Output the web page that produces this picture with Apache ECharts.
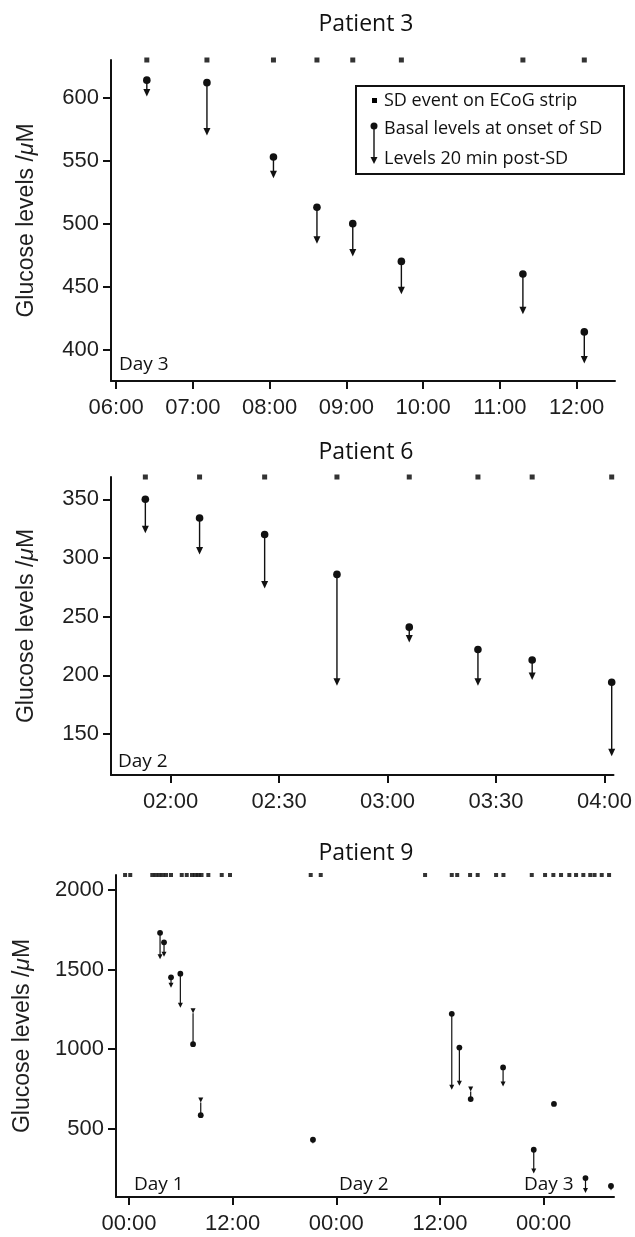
<!DOCTYPE html>
<html>
<head>
<meta charset="utf-8">
<script src="https://cdn.jsdelivr.net/npm/echarts@6/dist/echarts.min.js"></script>
<style>
html,body{margin:0;padding:0;background:#fff;}
#chart{width:635px;height:1237px;}
</style>
</head>
<body>
<div id="chart"></div>
<script>
// ---------------- DATA ----------------
// Patient 3 (Day 3)
const p3Times = ['06:24','07:11','08:03','08:37','09:05','09:43','11:18','12:06'];
const p3Basal = [614, 612, 553, 513, 500, 470, 460, 414];
const p3Post  = [601, 570, 536, 484, 474, 444, 428, 389];
const p3SD    = ['06:24','07:11','08:03','08:37','09:05','09:43','11:18','12:06'];
const p3XTicks = ['06:00','07:00','08:00','09:00','10:00','11:00','12:00'];
const p3YTicks = [400, 450, 500, 550, 600];

// Patient 6 (Day 2)
const p6Times = ['01:53','02:08','02:26','02:46','03:06','03:25','03:40','04:02'];
const p6Basal = [350, 334, 320, 286, 241, 222, 213, 194];
const p6Post  = [321, 303, 274, 191, 228, 191, 196, 131];
const p6SD    = ['01:53','02:08','02:26','02:46','03:06','03:25','03:40','04:02'];
const p6XTicks = ['02:00','02:30','03:00','03:30','04:00'];
const p6YTicks = [150, 200, 250, 300, 350];

// Patient 9 (hours since Day 1 00:00)
const p9Times = [3.6, 4.06, 4.87, 5.95, 7.42, 8.31, 21.3, 37.37, 38.25, 39.56, 43.31, 46.86, 49.2, 52.85, 55.8];
const p9Basal = [1731, 1671, 1451, 1474, 1031, 585, 431, 1222, 1010, 686, 885, 368, 656, 190, 140];
const p9Post  = [1564, 1580, 1385, 1260, 1225, 665, 405, 745, 770, 734, 766, 218, null, 96, 112];
const p9SD    = [-0.45, 0.15, 2.7, 3.1, 3.5, 3.9, 4.3, 4.87, 6.11, 6.69, 7.3, 7.7, 8.05, 8.4, 9.19, 10.74, 11.7,
                 21.04, 22.2, 34.28, 37.37, 38.0, 39.49, 40.37, 42.5, 43.35, 46.63, 48.17, 49.13, 50.02,
                 50.98, 51.76, 52.6, 53.4, 53.9, 54.73, 55.58];
const p9XTicks = [0, 12, 24, 36, 48];
const p9YTicks = [500, 1000, 1500, 2000];

// ---------------- HELPERS ----------------
const toMin = s => { const [h, m] = s.split(':').map(Number); return h * 60 + m; };
const pad = n => String(n).padStart(2, '0');
const fmtMin = v => pad(Math.floor(v / 60)) + ':' + pad(Math.round(v % 60));
const fmtHour = v => pad(((Math.round(v) % 24) + 24) % 24) + ':00';

const TICK_FONT = '"Liberation Sans", Arial, Helvetica, sans-serif';
const TEXT_FONT = '"Open Sans", "Noto Sans", sans-serif';
const INK = '#111111';

function arrowSeries(idx, xs, basal, post, sz) {
  const data = xs.map((x, i) => [x, basal[i], post[i] == null ? basal[i] : post[i]]);
  return {
    type: 'custom', xAxisIndex: idx, yAxisIndex: idx, clip: false, z: 3,
    data: data,
    encode: { x: 0, y: [1, 2] },
    renderItem: function (params, api) {
      const x = api.value(0), b = api.value(1), p = api.value(2);
      const pb = api.coord([x, b]);
      const pp = api.coord([x, p]);
      const children = [];
      if (Math.abs(pp[1] - pb[1]) > 0.5) {
        const down = pp[1] > pb[1];
        const lineEnd = down ? pp[1] - sz.th * 0.6 : pp[1];
        children.push({ type: 'line', shape: { x1: pb[0], y1: pb[1], x2: pp[0], y2: lineEnd },
          style: { stroke: INK, lineWidth: sz.lw } });
        children.push({ type: 'polygon', shape: { points: [
          [pp[0] - sz.tw / 2, pp[1] - sz.th], [pp[0] + sz.tw / 2, pp[1] - sz.th], [pp[0], pp[1]]] },
          style: { fill: INK } });
      }
      children.push({ type: 'circle', shape: { cx: pb[0], cy: pb[1], r: sz.r }, style: { fill: INK } });
      return { type: 'group', children: children };
    }
  };
}

function sdSeries(idx, xs, yTop, size) {
  return {
    type: 'scatter', xAxisIndex: idx, yAxisIndex: idx, clip: false, z: 4,
    symbol: 'rect', symbolSize: size, itemStyle: { color: '#000' },
    data: xs.map(x => [x, yTop]), silent: true
  };
}

function xAxisCfg(idx, min, max, ticks, fmt) {
  return {
    type: 'value', gridIndex: idx, min: min, max: max,
    axisLine: { show: true, onZero: false, lineStyle: { color: INK, width: 2 } },
    axisTick: { show: true, length: 8, customValues: ticks, lineStyle: { color: INK, width: 2 } },
    axisLabel: { customValues: ticks, formatter: fmt, margin: 16, fontSize: 22,
      fontFamily: TICK_FONT, color: '#1e1e1e' },
    splitLine: { show: false }
  };
}

function yAxisCfg(idx, min, max, ticks, gap) {
  return {
    type: 'value', gridIndex: idx, min: min, max: max,
    name: 'Glucose levels /{i|μ}M', nameLocation: 'middle', nameGap: gap,
    nameTextStyle: { fontSize: 23, fontFamily: TICK_FONT, color: '#1e1e1e',
      rich: { i: { fontStyle: 'italic', fontSize: 23, fontFamily: TICK_FONT, color: '#1e1e1e' } } },
    axisLine: { show: true, onZero: false, lineStyle: { color: INK, width: 2 } },
    axisTick: { show: true, length: 8, customValues: ticks, lineStyle: { color: INK, width: 2 } },
    axisLabel: { customValues: ticks, formatter: v => String(v), margin: 12, fontSize: 22,
      fontFamily: TICK_FONT, color: '#1e1e1e' },
    splitLine: { show: false }
  };
}

function txt(str, x, y, size, align) {
  return { type: 'text', x: x, y: y, z: 10,
    style: { text: str, font: size + 'px ' + TEXT_FONT, fill: INK,
      align: align || 'left', verticalAlign: 'middle' } };
}

// ---------------- RANGES ----------------
const p3Y = [375, 630], p3X = [356, 750];
const p6Y = [115, 369], p6X = [103.5, 242.5];
const p9Y = [71, 2094], p9X = [-1.5, 56.15];

const big = { r: 3.8, tw: 7, th: 7.5, lw: 1.4 };
const small = { r: 2.9, tw: 5, th: 5, lw: 1.2 };

const option = {
  animation: false,
  backgroundColor: '#ffffff',
  grid: [
    { left: 111, top: 60, width: 504, height: 321 },
    { left: 111, top: 477, width: 504, height: 298 },
    { left: 116, top: 875, width: 498, height: 322 }
  ],
  xAxis: [
    xAxisCfg(0, p3X[0], p3X[1], p3XTicks.map(toMin), fmtMin),
    xAxisCfg(1, p6X[0], p6X[1], p6XTicks.map(toMin), fmtMin),
    xAxisCfg(2, p9X[0], p9X[1], p9XTicks, fmtHour)
  ],
  yAxis: [
    yAxisCfg(0, p3Y[0], p3Y[1], p3YTicks, 73),
    yAxisCfg(1, p6Y[0], p6Y[1], p6YTicks, 73),
    yAxisCfg(2, p9Y[0], p9Y[1], p9YTicks, 82)
  ],
  series: [
    sdSeries(0, p3SD.map(toMin), p3Y[1], 5),
    arrowSeries(0, p3Times.map(toMin), p3Basal, p3Post, big),
    sdSeries(1, p6SD.map(toMin), p6Y[1], 5),
    arrowSeries(1, p6Times.map(toMin), p6Basal, p6Post, big),
    sdSeries(2, p9SD, p9Y[1], 4),
    arrowSeries(2, p9Times, p9Basal, p9Post, small)
  ],
  graphic: [
    txt('Patient 3', 366, 24, 23, 'center'),
    txt('Patient 6', 366, 452, 23, 'center'),
    txt('Patient 9', 366, 853, 23, 'center'),
    txt('Day 3', 119, 365, 19),
    txt('Day 2', 118, 762, 19),
    txt('Day 1', 134, 1185, 19),
    txt('Day 2', 339, 1185, 19),
    txt('Day 3', 524, 1185, 19),
    // legend box for Patient 3
    { type: 'rect', z: 9, shape: { x: 356, y: 86, width: 268, height: 88 },
      style: { fill: '#fff', stroke: INK, lineWidth: 2 } },
    { type: 'rect', z: 10, shape: { x: 372, y: 98, width: 5, height: 5 }, style: { fill: '#000' } },
    { type: 'line', z: 10, shape: { x1: 374, y1: 126, x2: 374, y2: 158 }, style: { stroke: INK, lineWidth: 1.4 } },
    { type: 'circle', z: 10, shape: { cx: 374, cy: 126, r: 3.5 }, style: { fill: INK } },
    { type: 'polygon', z: 10, shape: { points: [[370.5, 157], [377.5, 157], [374, 164]] }, style: { fill: INK } },
    txt('SD event on ECoG strip', 384, 101, 18),
    txt('Basal levels at onset of SD', 384, 129, 18),
    txt('Levels 20 min post-SD', 384, 159, 18)
  ]
};

const chart = echarts.init(document.getElementById('chart'), null, { renderer: 'canvas' });
chart.setOption(option);
</script>
</body>
</html>
